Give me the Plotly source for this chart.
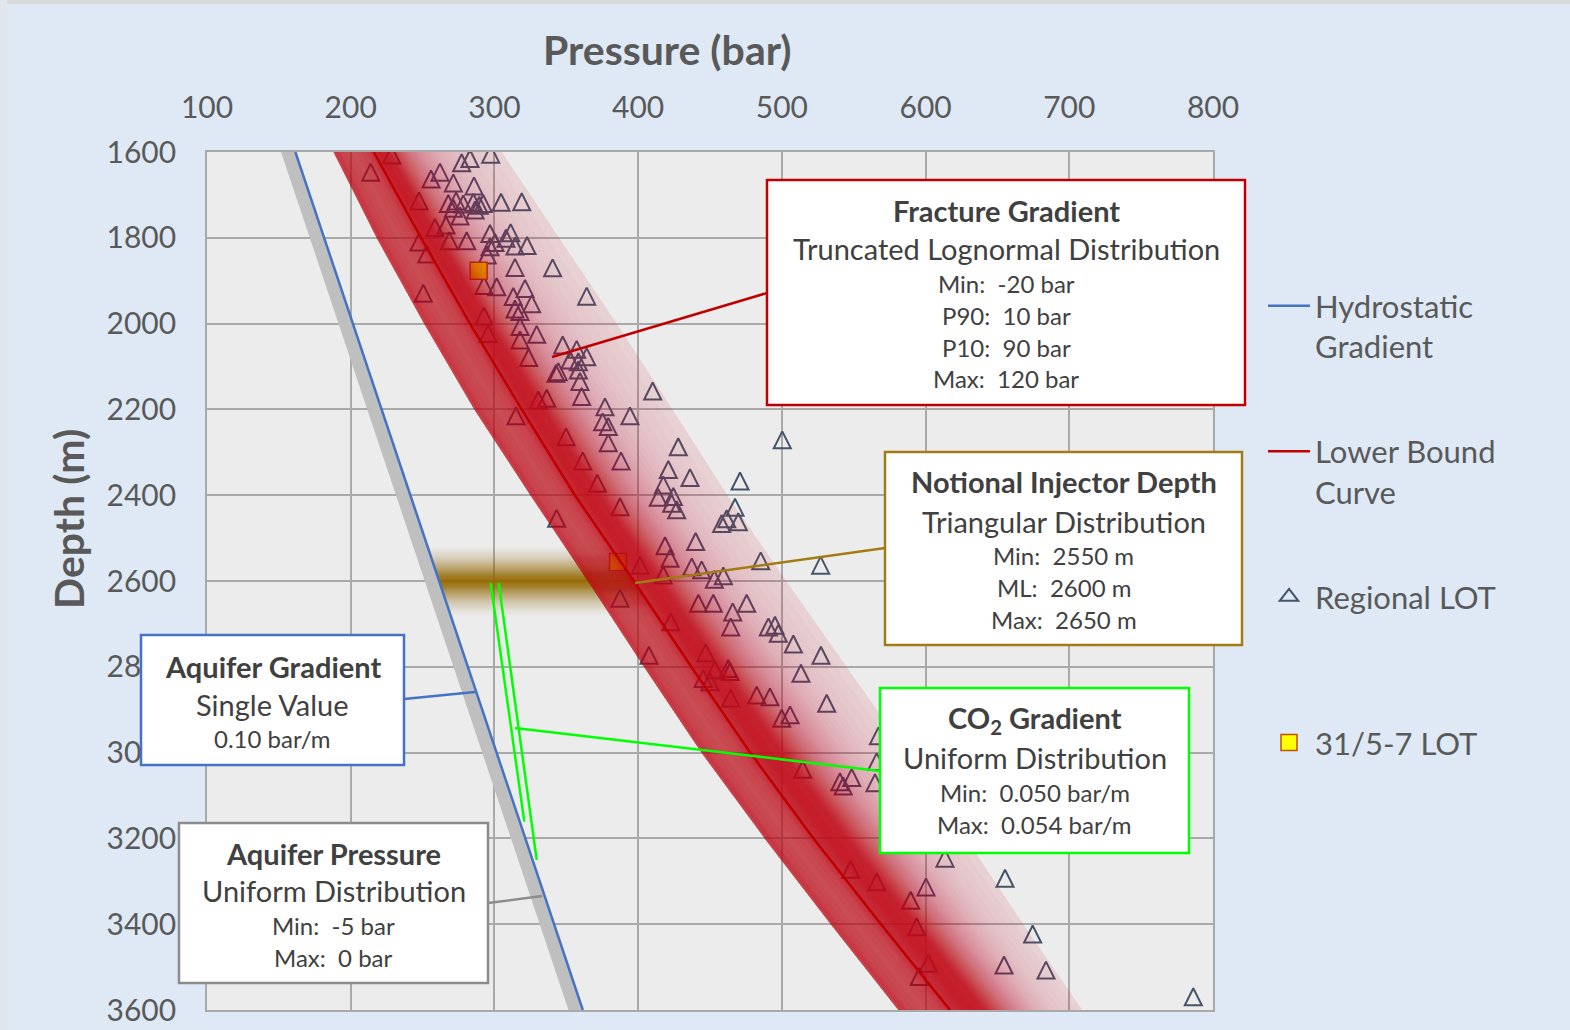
import numpy as np
import plotly.graph_objects as go

# ---------------------------------------------------------------- data
# Regional leak-off tests (pressure in bar, depth in m)
lot_pressure = [
    228.5, 213.9, 277.2, 283.0, 297.4, 255.9, 262.1, 271.4, 285.8, 247.5,
    267.9, 273.3, 278.3, 285.3, 289.5, 292.2, 271.4, 286.5, 304.6, 319.0,
    276.0, 258.6, 266.3, 296.9, 311.3, 247.5, 252.9, 268.6, 280.7, 296.9,
    300.4, 308.0, 314.3, 295.0, 322.7, 314.3, 292.7, 301.6, 250.5, 313.1,
    321.3, 314.3, 292.7, 295.7, 317.8, 317.8, 323.8, 340.5, 364.2, 325.9,
    317.8, 329.4, 347.5, 357.2, 364.2, 352.6, 358.4, 344.4, 342.8, 358.4,
    359.5, 360.7, 330.5, 336.4, 315.0, 376.9, 375.3, 379.2, 394.3, 410.1,
    349.8, 379.2, 427.9, 361.4, 388.1, 421.0, 436.1, 470.9, 371.6, 417.5,
    500.3, 414.0, 424.5, 423.3, 426.8, 467.4, 461.6, 469.7, 458.1, 387.4,
    343.3, 440.0, 418.7, 422.2, 401.3, 437.3, 444.2, 417.5, 453.0, 459.3,
    485.3, 527.0, 387.4, 441.9, 452.3, 475.5, 465.8, 422.7, 464.4, 490.6,
    495.2, 497.5, 508.0, 527.2, 447.0, 407.5, 513.3, 462.7, 463.9, 453.5,
    445.3, 450.0, 464.4, 482.5, 491.7, 531.2, 499.9, 505.7, 567.2, 514.5,
    540.4, 542.7, 548.6, 564.8, 566.0, 613.5, 547.9, 566.0, 600.3, 589.6,
    655.3, 593.8, 674.5, 601.9, 595.6, 654.6, 683.8, 786.3,
]
lot_depth = [
    1607, 1647, 1625, 1615, 1605, 1663, 1647, 1672, 1679, 1714,
    1720, 1714, 1721, 1717, 1724, 1720, 1731, 1735, 1717, 1716,
    1749, 1776, 1770, 1790, 1788, 1810, 1838, 1807, 1807, 1821,
    1811, 1801, 1819, 1840, 1818, 1869, 1911, 1914, 1929, 1937,
    1918, 1966, 1982, 2023, 2007, 2038, 2079, 1870, 1936, 1954,
    1972, 2025, 2050, 2060, 2077, 2085, 2089, 2112, 2116, 2108,
    2135, 2170, 2178, 2174, 2215, 2194, 2229, 2240, 2215, 2157,
    2264, 2278, 2287, 2320, 2320, 2340, 2359, 2367, 2372, 2376,
    2271, 2405, 2403, 2419, 2434, 2428, 2455, 2462, 2466, 2427,
    2454, 2508, 2518, 2547, 2563, 2567, 2574, 2586, 2596, 2588,
    2553, 2563, 2640, 2652, 2652, 2652, 2672, 2695, 2707, 2707,
    2703, 2722, 2747, 2773, 2767, 2773, 2815, 2804, 2811, 2807,
    2827, 2835, 2873, 2866, 2870, 2885, 2920, 2912, 2961, 3039,
    3068, 3078, 3058, 3070, 3021, 3246, 3272, 3301, 3313, 3344,
    3293, 3406, 3423, 3491, 3522, 3495, 3507, 3569,
]

# Leak-off tests in well 31/5-7
well_pressure = [289.0, 386.0]
well_depth = [1877, 2556]

# Hydrostatic (aquifer) gradient, 0.10 bar/m
hydro_depth = [1600, 3600]
hydro_pressure = [161.5, 361.5]

# Aquifer pressure spread relative to hydrostatic (bar)
aquifer_spread = [-10, 0]

# Fracture gradient: lower bound curve and the extent of its distribution
fg_depth = [1600, 1800, 2000, 2200, 2400, 2600, 2800, 3000, 3200, 3400, 3600]
fg_lower_bound = [216, 249, 283, 319, 356, 397, 437, 478, 522, 569, 617]
fg_band_min = [188, 218, 251, 286, 325, 365, 404, 444, 488, 534, 581]
fg_band_max = [305, 345, 385, 424, 462, 503, 545, 587, 628, 668, 709]

# Notional injector depth (m)
injector_ml = 2600

# CO2 gradient lines from the injector depth
co2_a_depth = [2605, 3161]
co2_a_pressure = [297.4, 320.8]
co2_b_depth = [2605, 3250]
co2_b_pressure = [303.0, 329.4]

# Axis ticks
x_ticks = [100, 200, 300, 400, 500, 600, 700, 800]
y_ticks = [1600, 1800, 2000, 2200, 2400, 2600, 2800, 3000, 3200, 3400, 3600]

# ---------------------------------------------------------------- layout helpers
W, H = 1570, 1030
PL, PR, PT, PB = 207, 1213, 152, 1010
FONT = "Lato"
TXT = "#595959"
BOX_TXT = "#404040"
TRI_SIZE = 17
LOT_COLOR = "#44546a"


def fx(col):
    return (col - PL) / (PR - PL)


def fy(row):
    return (PB - row) / (PB - PT)


def runs_above(values, threshold):
    out, start = [], None
    n = len(values)
    for i, v in enumerate(values):
        if v >= threshold and start is None:
            start = i
        if start is not None and (v < threshold or i == n - 1):
            end = i if v >= threshold else i - 1
            out.append((start, end))
            start = None
    return out


fig = go.Figure()

D = np.array(fg_depth, float)
lb = np.array(fg_lower_bound, float)
lo = np.array(fg_band_min, float)
hi = np.array(fg_band_max, float)

# aquifer pressure band (grey) just left of hydrostatic
hx = np.array(hydro_pressure, float)
hy = np.array(hydro_depth, float)
fig.add_trace(go.Scatter(
    x=np.concatenate([hx + aquifer_spread[0], (hx + aquifer_spread[1])[::-1]]),
    y=np.concatenate([hy, hy[::-1]]),
    fill="toself", fillcolor="rgb(191,191,191)", line=dict(width=0),
    mode="lines", hoverinfo="skip", showlegend=False))

# injector depth band: stacked translucent slabs fading away from the most likely depth
inj_knot_d = [0, 10, 25, 40, 55, 70, 85]
inj_knot_a = [0.95, 0.85, 0.6, 0.38, 0.2, 0.08, 0.0]
prev = 0.0
for t in np.linspace(0.02, 0.93, 36):
    h = float(np.interp(t, inj_knot_a[::-1], inj_knot_d[::-1]))
    a = 1 - (1 - t) / (1 - prev)
    prev = t
    d0, d1 = injector_ml - h, injector_ml + h
    l0, l1 = np.interp([d0, d1], hydro_depth, hydro_pressure)
    r0, r1 = np.interp([d0, d1], fg_depth, fg_lower_bound)
    fig.add_trace(go.Scatter(
        x=[l0, r0, r1, l1], y=[d0, d0, d1, d1],
        fill="toself", fillcolor=f"rgba(151,108,0,{a:.4f})", line=dict(width=0),
        mode="lines", hoverinfo="skip", showlegend=False))

# regional LOT points: an upward triangle centred on each point
fig.add_trace(go.Scatter(
    x=lot_pressure, y=lot_depth, mode="markers", name="Regional LOT",
    legendgroup="c", showlegend=False,
    marker=dict(symbol="arrow-down-open", angle=180, standoff=TRI_SIZE / 2,
                size=TRI_SIZE, color=LOT_COLOR,
                line=dict(width=2, color=LOT_COLOR))))
# legend key for the regional LOT points
fig.add_trace(go.Scatter(
    x=[None], y=[None], mode="markers", name="Regional LOT<br> ",
    legendgroup="c", legendrank=3,
    marker=dict(symbol="triangle-up-open", size=16, color=LOT_COLOR,
                line=dict(width=2, color=LOT_COLOR))))

# well 31/5-7 LOT points
fig.add_trace(go.Scatter(
    x=well_pressure, y=well_depth, mode="markers", name="31/5-7 LOT<br> ",
    legendgroup="d", legendrank=4,
    marker=dict(symbol="square", size=17, color="#ffff00",
                line=dict(width=1.5, color="#c0500a"))))

# fracture gradient distribution: translucent red layers following the lower bound.
# s runs 0 -> 1 from the band minimum to the lower bound, 1 -> 2 from there to the maximum.
s_grid = np.linspace(0.0, 2.0, 1001)
prof_s = [0, 0.08, 0.2, 0.5, 0.8, 1.0, 1.06, 1.16, 1.24, 1.32, 1.42, 1.56, 1.75, 2.0]
prof_a = [0.72, 0.8, 0.74, 0.7, 0.74, 0.84, 0.92, 0.9, 0.72, 0.55, 0.4, 0.27, 0.18, 0.12]
alpha_grid = np.interp(s_grid, prof_s, prof_a)
# the dense core right of the lower bound widens with depth
spread_pow = np.interp(D, [1600, 3600], [1.2, 0.75])


def band_edge(s):
    if s <= 1:
        return lo + s * (lb - lo)
    v = (s - 1) ** spread_pow
    return lb + v * (hi - lb)


prev = 0.0
for t in np.linspace(0.12, 0.91, 48):
    a = 1 - (1 - t) / (1 - prev)
    prev = t
    for i0, i1 in runs_above(alpha_grid, t - 1e-9):
        left = band_edge(s_grid[i0])
        right = band_edge(s_grid[i1])
        fig.add_trace(go.Scatter(
            x=np.concatenate([left, right[::-1]]),
            y=np.concatenate([D, D[::-1]]),
            fill="toself", fillcolor=f"rgba(200,18,30,{a:.4f})", line=dict(width=0),
            mode="lines", hoverinfo="skip", showlegend=False))

# lower bound curve
fig.add_trace(go.Scatter(
    x=fg_lower_bound, y=fg_depth, mode="lines", name="Lower Bound<br>Curve",
    legendgroup="b", legendrank=2, line=dict(color="#c00000", width=2.5)))

# hydrostatic gradient
fig.add_trace(go.Scatter(
    x=hydro_pressure, y=hydro_depth, mode="lines", name="Hydrostatic<br>Gradient",
    legendgroup="a", legendrank=1, line=dict(color="#4472c4", width=2.5)))

# CO2 gradient lines
for xs, ys in ((co2_a_pressure, co2_a_depth), (co2_b_pressure, co2_b_depth)):
    fig.add_trace(go.Scatter(x=xs, y=ys, mode="lines", line=dict(color="#00ff00", width=2.5),
                             hoverinfo="skip", showlegend=False))

# ---------------------------------------------------------------- callout boxes
shapes = []
annotations = []

# thin frame strips along the top and left edge of the canvas
shapes.append(dict(type="rect", xref="paper", yref="paper", x0=fx(0), x1=fx(W), y0=fy(4), y1=fy(0),
                   fillcolor="#d9dadc", line=dict(width=0), layer="above"))
shapes.append(dict(type="rect", xref="paper", yref="paper", x0=fx(0), x1=fx(7), y0=fy(H), y1=fy(0),
                   fillcolor="#e2e5e9", line=dict(width=0), layer="above"))

boxes = [
    # (x0, y0, x1, y1, border colour, leader line, text lines)
    (767, 180, 1245, 405, "#c00000", (552, 357, 767, 293),
     [("<b>Fracture Gradient</b>", 29, 210), ("Truncated Lognormal Distribution", 29, 248),
      ("Min:\u00a0 -20 bar", 24, 283), ("P90:\u00a0 10 bar", 24, 315),
      ("P10:\u00a0 90 bar", 24, 347), ("Max:\u00a0 120 bar", 24, 378)]),
    (885, 452, 1242, 645, "#a27b14", (635, 583, 885, 548),
     [("<b>Notional Injector Depth</b>", 29, 482), ("Triangular Distribution", 29, 521),
      ("Min:\u00a0 2550 m", 24, 555), ("ML:\u00a0 2600 m", 24, 587),
      ("Max:\u00a0 2650 m", 24, 619)]),
    (880, 688, 1189, 853, "#00ff00", (515, 728, 880, 771),
     [("<b>CO<sub>2</sub> Gradient</b>", 29, 719), ("Uniform Distribution", 29, 757),
      ("Min:\u00a0 0.050 bar/m", 24, 792), ("Max:\u00a0 0.054 bar/m", 24, 824)]),
    (141, 635, 404, 765, "#4472c4", (404, 699, 475, 692),
     [("<b>Aquifer Gradient</b>", 29, 666), ("Single Value", 29, 704),
      ("0.10 bar/m", 24, 738)]),
    (179, 823, 488, 983, "#8c8c8c", (488, 903, 542, 896),
     [("<b>Aquifer Pressure</b>", 29, 853), ("Uniform Distribution", 29, 890),
      ("Min:\u00a0 -5 bar", 24, 925), ("Max:\u00a0 0 bar", 24, 957)]),
]

for x0, y0, x1, y1, col, lead, lines in boxes:
    lx0, ly0, lx1, ly1 = lead
    shapes.append(dict(type="line", xref="paper", yref="paper",
                       x0=fx(lx0), y0=fy(ly0), x1=fx(lx1), y1=fy(ly1),
                       line=dict(color=col, width=2.5), layer="above"))
    shapes.append(dict(type="rect", xref="paper", yref="paper",
                       x0=fx(x0), x1=fx(x1), y0=fy(y1), y1=fy(y0),
                       fillcolor="white", line=dict(color=col, width=2.5), layer="above"))
    cx = (x0 + x1) / 2
    for text, size, cy in lines:
        annotations.append(dict(xref="paper", yref="paper", x=fx(cx), y=fy(cy),
                                xanchor="center", yanchor="middle", showarrow=False,
                                text=text, font=dict(family=FONT, size=size, color=BOX_TXT)))

# axis titles
annotations.append(dict(xref="paper", yref="paper", x=fx(667), y=fy(50), xanchor="center",
                        yanchor="middle", showarrow=False, text="<b>Pressure (bar)</b>",
                        font=dict(family=FONT, size=41, color=TXT)))
annotations.append(dict(xref="paper", yref="paper", x=fx(68), y=fy(519), xanchor="center",
                        yanchor="middle", showarrow=False, text="<b>Depth (m)</b>", textangle=-90,
                        font=dict(family=FONT, size=41, color=TXT)))

axis_common = dict(showgrid=True, gridcolor="#a9a9a9", gridwidth=1.8, zeroline=False,
                   showline=True, mirror=True, linecolor="#a9a9a9", linewidth=1.8,
                   ticks="outside", tickcolor="rgba(0,0,0,0)", automargin=False,
                   tickfont=dict(family=FONT, size=30, color=TXT))

fig.update_layout(
    width=W, height=H, autosize=False,
    margin=dict(l=PL, r=W - PR, t=PT, b=H - PB, pad=0, autoexpand=False),
    paper_bgcolor="#dee9f5", plot_bgcolor="#ececec",
    font=dict(family=FONT, color=TXT),
    xaxis=dict(range=[100, 800], side="top", tickvals=x_ticks, ticklen=20, **axis_common),
    yaxis=dict(range=[3600, 1600], tickvals=y_ticks, ticklen=23, **axis_common),
    showlegend=True,
    legend=dict(x=fx(1263), xanchor="left", y=fy(279), yanchor="top",
                bgcolor="rgba(0,0,0,0)", font=dict(family=FONT, size=31, color=TXT),
                tracegroupgap=62, valign="top", itemwidth=42, traceorder="grouped"),
    shapes=shapes, annotations=annotations,
)

fig.write_html("out.html")
